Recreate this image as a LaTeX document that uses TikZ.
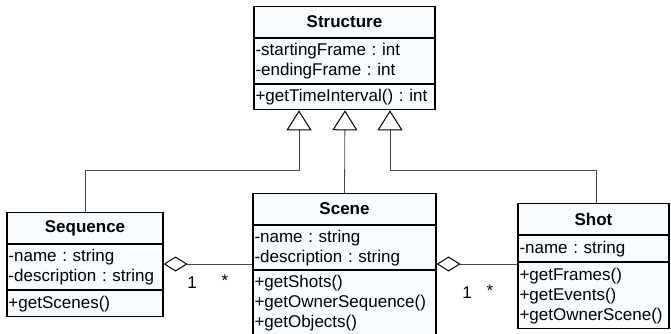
\documentclass[tikz,border=0pt]{standalone}
\usepackage{fontspec}
\setmainfont{Liberation Sans}
\usetikzlibrary{positioning,arrows.meta}
\definecolor{boxfill}{RGB}{249,252,255}
\definecolor{linkgray}{RGB}{70,70,70}
\frenchspacing

\begin{document}
\begin{tikzpicture}[x=1pt,y=-1pt,font=\fontsize{17}{20}\selectfont,
    classname/.style={draw, fill=boxfill, line width=1.1pt, font=\fontsize{17}{20}\selectfont\bfseries, minimum height=31pt, inner sep=0pt, anchor=north},
    members/.style={draw, fill=boxfill, line width=1.1pt, align=left, inner xsep=1.5pt, inner ysep=0pt, below=0pt of #1},
    inherit/.style={draw=linkgray, line width=0.8pt, -{Triangle[open, width=25pt, length=20pt, fill=white, line width=1pt, color=black]}},
    aggregate/.style={draw=linkgray, line width=0.8pt, {Diamond[open, width=15pt, length=24pt, fill=white, line width=1pt, color=black]}-},
    ]
    \useasboundingbox (0,0) rectangle (671,334);

    % Structure
    \node [classname, minimum width=181pt](structure) at (344.5,6) {Structure};
    \node [members=structure, text width=178pt, minimum height=45pt](structure attrs) {-startingFrame : int\\-endingFrame : int};
    \node [members=structure attrs, text width=178pt, minimum height=25pt](structure ops) {+getTimeInterval() : int};

    % Sequence
    \node [classname, minimum width=156pt](sequence) at (85,212) {Sequence};
    \node [members=sequence, text width=153pt, minimum height=45pt](sequence attrs) {-name : string\\-description : string};
    \node [members=sequence attrs, text width=153pt, minimum height=26pt](sequence ops) {+getScenes()};

    % Scene
    \node [classname, minimum width=183pt](scene) at (344.5,193) {Scene};
    \node [members=scene, text width=180pt, minimum height=44pt](scene attrs) {-name : string\\-description : string};
    \node [members=scene attrs, text width=180pt, minimum height=65pt](scene ops) {+getShots()\\+getOwnerSequence()\\+getObjects()};

    % Shot
    \node [classname, minimum width=151pt](shot) at (593.5,203) {Shot};
    \node [members=shot, text width=148pt, minimum height=26pt](shot attrs) {-name : string};
    \node [members=shot attrs, text width=148pt, minimum height=66pt](shot ops) {+getFrames()\\+getEvents()\\+getOwnerScene()};

    % generalisation
    \coordinate (bend1) at (299,170);
    \coordinate (bend2) at (345,170);
    \coordinate (bend3) at (390,170);
    \path [inherit] (sequence.north) |- (bend1) -- (structure ops.south -| bend1);
    \path [inherit] (scene.north) -- (structure ops.south -| bend2);
    \path [inherit] (shot.north -| 596,0) |- (bend3) -- (structure ops.south -| bend3);

    % aggregation
    \coordinate (agg) at (0,264);
    \path [aggregate] (sequence attrs.east |- agg) -- (scene attrs.west |- agg);
    \path [aggregate] (scene attrs.east |- agg) -- (shot ops.west |- agg);

    \node (one1) at (192,283) {1};
    \node (many1) at (225,281) {*};
    \node (one2) at (467,293) {1};
    \node (many2) at (490,291) {*};
\end{tikzpicture}
\end{document}
